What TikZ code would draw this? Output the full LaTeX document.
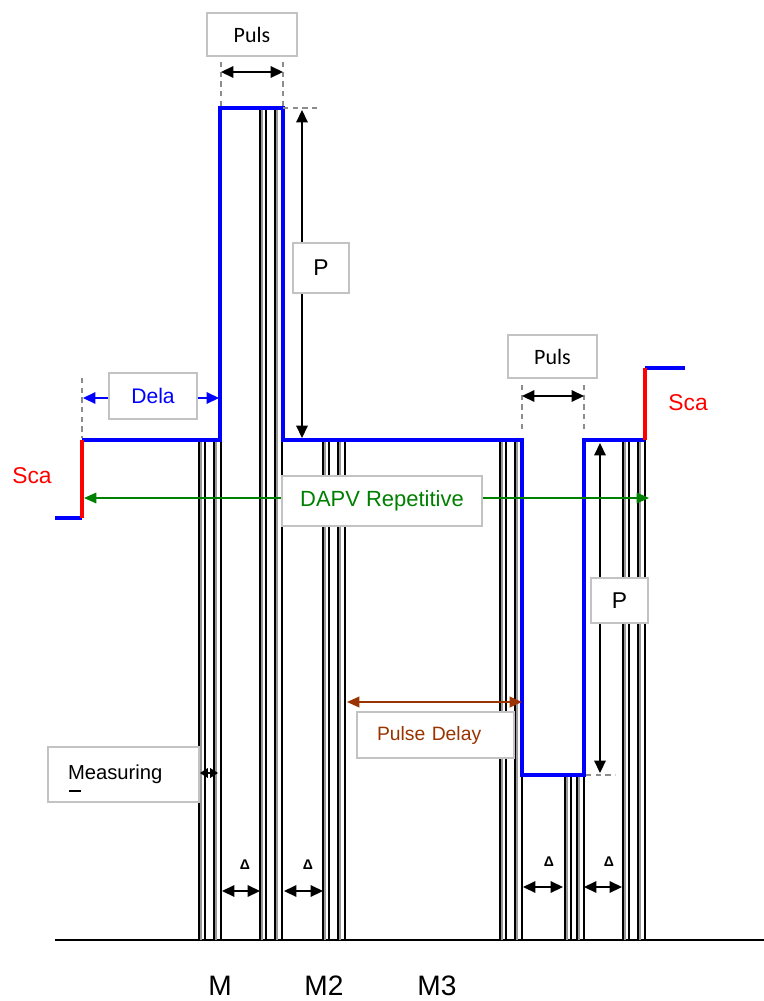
\documentclass[tikz,border=0pt]{standalone}
\usepackage{fontspec}
\setmainfont{Liberation Sans}
\newfontfamily\pulsfont{Carlito}
\usetikzlibrary{arrows.meta}
\definecolor{wave}{RGB}{0,0,255}
\definecolor{scared}{RGB}{255,0,0}
\definecolor{dapv}{RGB}{0,128,0}
\definecolor{delay}{RGB}{153,51,0}
\definecolor{boxline}{RGB}{195,195,195}
\tikzset{
  wv/.style   ={draw=wave, line width=2.3pt},
  scl/.style  ={draw=scared, line width=2.3pt},
  bar/.style  ={draw=black, line width=0.6pt},
  barg/.style ={draw=black!40, line width=0.6pt},
  guide/.style={draw=black!45, line width=0.6pt, dash pattern=on 3pt off 2.5pt},
  dim/.style  ={draw=black, line width=0.9pt, {Triangle[length=7pt,width=6.5pt]}-{Triangle[length=7pt,width=6.5pt]}},
  dimb/.style ={draw=wave, line width=0.9pt, {Triangle[length=7pt,width=6.5pt]}-{Triangle[length=7pt,width=6.5pt]}},
  dimg/.style ={draw=dapv, line width=0.9pt, {Triangle[length=7pt,width=6pt]}-{Triangle[length=7pt,width=6pt]}},
  dimr/.style ={draw=delay, line width=1.1pt, {Triangle[length=7pt,width=6pt]}-{Triangle[length=7pt,width=6pt]}},
  box/.style  ={draw=boxline, line width=0.8pt, fill=white, inner sep=0pt},
  lab/.style  ={font=\fontsize{13}{15}\selectfont, inner sep=0pt},
  labp/.style ={font=\pulsfont\fontsize{12.5}{14}\selectfont},
  labd/.style ={font=\bfseries\fontsize{8}{9}\selectfont, inner sep=0pt},
  labm/.style ={font=\fontsize{16}{18}\selectfont, inner sep=0pt},
}
\begin{document}
\begin{tikzpicture}[x=0.02cm,y=-0.02cm]
  \useasboundingbox (0,0) rectangle (764,1001);
  % baseline
  \draw[line width=0.8pt] (55,940) -- (764,940);
  % electrodes
  \foreach \xl/\xr/\yt in {199/221/440, 260/282/108, 323/345/440, 500/522/440, 565/584/775, 623/645/440}{
    \draw[bar] (\xl,\yt) rectangle (\xr,940);
    \draw[barg] (\xl+2,\yt) -- (\xl+2,940);
    \draw[bar] (\xl+6,\yt) -- (\xl+6,940);
    \draw[bar] (\xr-7,\yt) -- (\xr-7,940);
    \draw[barg] (\xr-5,\yt) -- (\xr-5,940);
  }
  % waveform corners
  \coordinate (w0) at (82,440);
  \coordinate (w1) at (220,440);
  \coordinate (w2) at (220,108);
  \coordinate (w3) at (283,108);
  \coordinate (w4) at (283,440);
  \coordinate (w5) at (522,440);
  \coordinate (w6) at (522,775);
  \coordinate (w7) at (584,775);
  \coordinate (w8) at (584,440);
  \coordinate (w9) at (645,440);
  \draw[wv] (55,518) -- (82,518);
  \draw[wv] (645,368) -- (685,368);
  \draw[wv] (w0) -- (w1) -- (w2) -- (w3) -- (w4) -- (w5) -- (w6) -- (w7) -- (w8) -- (w9);
  \draw[scl] (82,518) -- (w0);
  \draw[scl] (w9) -- (645,368);
  % guides
  \draw[guide] (221,62) -- (221,106);
  \draw[guide] (283,62) -- (283,106);
  \draw[guide] (283,108) -- (320,108);
  \draw[guide] (82,378) -- (82,438);
  \draw[guide] (522,385) -- (522,430);
  \draw[guide] (584,385) -- (584,430);
  \draw[guide] (586,775) -- (615,775);
  % dimension arrows
  \coordinate (pa1) at (221,72);  \coordinate (pa2) at (283,72);
  \coordinate (pb1) at (522,396); \coordinate (pb2) at (584,396);
  \coordinate (da1) at (83,398);  \coordinate (da2) at (219,398);
  \coordinate (ha1) at (302,110); \coordinate (ha2) at (302,438);
  \coordinate (hb1) at (600,443); \coordinate (hb2) at (600,773);
  \coordinate (ga1) at (84,498);  \coordinate (ga2) at (649,498);
  \coordinate (ra1) at (347,702); \coordinate (ra2) at (522,702);
  \draw[dim] (pa1) -- (pa2);
  \draw[dim] (pb1) -- (pb2);
  \draw[dimb] (da1) -- (da2);
  \draw[dim] (ha1) -- (ha2);
  \draw[dim] (hb1) -- (hb2);
  \draw[dimg] (ga1) -- (ga2);
  \draw[dimr] (ra1) -- (ra2);
  \coordinate (ms1) at (200,773); \coordinate (ms2) at (218,773);
  \draw[line width=0.9pt, {Triangle[length=4.5pt,width=5.5pt]}-{Triangle[length=4.5pt,width=5.5pt]}] (ms1) -- (ms2);
  \coordinate (d1a) at (222,891); \coordinate (d1b) at (260,891);
  \coordinate (d2a) at (284,891); \coordinate (d2b) at (323,891);
  \coordinate (d3a) at (523,887); \coordinate (d3b) at (563,887);
  \coordinate (d4a) at (584,887); \coordinate (d4b) at (622,887);
  \draw[dim] (d1a) -- (d1b);
  \draw[dim] (d2a) -- (d2b);
  \draw[dim] (d3a) -- (d3b);
  \draw[dim] (d4a) -- (d4b);
  % boxes
  \node[box,labp,minimum width=1.8cm,minimum height=0.86cm] (pulsA) at (252,34.5) {Puls};
  \node[box,labp,minimum width=1.78cm,minimum height=0.86cm] (pulsB) at (552.5,356.5) {Puls};
  \node[box,lab,minimum width=1.12cm,minimum height=1.0cm] (hA) at (321,268) {P};
  \node[box,lab,minimum width=1.14cm,minimum height=0.9cm] (hB) at (619.5,600.5) {P};
  \node[box,lab,text=wave,font=\fontsize{12}{14}\selectfont,minimum width=1.76cm,minimum height=0.92cm] (dela) at (153,396) {Dela};
  \node[box,lab,text=dapv,font=\fontsize{12.5}{14}\selectfont,minimum width=4.0cm,minimum height=1.0cm] (dapv) at (382,501) {DAPV Repetitive};
  \node[box,lab,text=delay,font=\fontsize{11}{13}\selectfont,align=left,text width=2.34cm,inner xsep=0.4cm,minimum height=0.92cm] (pdel) at (435.5,735) {Pulse Delay};
  \node[box,lab,font=\fontsize{11.5}{13}\selectfont,align=left,text width=2.22cm,inner xsep=0.4cm,minimum height=1.1cm] (meas) at (123.5,774.5) {Measuring};
  \draw[line width=1.2pt] (69,791) -- (81,791);
  % plain labels
  \node[lab,text=scared] (scaL) at (32,476) {Sca};
  \node[lab,text=scared,anchor=west] (scaR) at (668,403) {Sca};
  \node[labd] (del1) at (245,865) {Δ};
  \node[labd] (del2) at (308,865) {Δ};
  \node[labd] (del3) at (549,862) {Δ};
  \node[labd] (del4) at (609,862) {Δ};
  \node[labm] (mA) at (220,986) {M};
  \node[labm] (mB) at (324,986) {M2};
  \node[labm] (mC) at (437,986) {M3};
\end{tikzpicture}
\end{document}
